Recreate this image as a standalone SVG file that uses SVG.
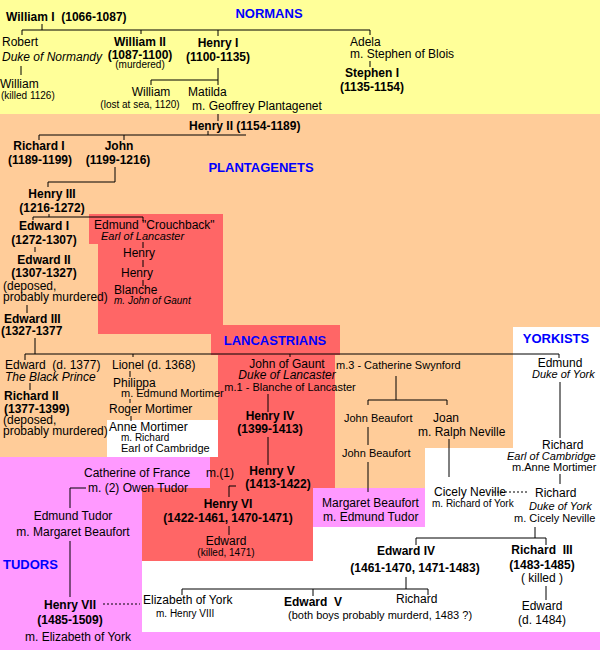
<svg xmlns="http://www.w3.org/2000/svg" width="600" height="650" viewBox="0 0 600 650">
<style>
text{font-family:"Liberation Sans",Arial,sans-serif;font-size:12px;fill:#000;white-space:pre}
.b{font-weight:bold}
.i{font-style:italic}
.s{font-size:10px}
.m{font-size:11px}
.h{font-weight:bold;fill:#0000FF;font-size:13px}
.c{text-anchor:middle}
#conn line,#conn path{stroke:#000;stroke-width:1;fill:none}
.d{stroke-dasharray:2,2}
</style>
<g id="bg">
<rect x="0" y="0" width="600" height="650" fill="#FF99FF"/>
<rect x="0" y="0" width="600" height="114" fill="#FFFF99"/>
<rect x="0" y="114" width="513" height="334" fill="#FFCC99"/>
<rect x="0" y="448" width="107" height="9" fill="#FFCC99"/>
<rect x="513" y="114" width="87" height="213" fill="#FFCC99"/>
<rect x="335" y="448" width="90" height="40" fill="#FFCC99"/>
<rect x="513" y="327" width="87" height="305" fill="#FFFFFF"/>
<rect x="425" y="448" width="175" height="184" fill="#FFFFFF"/>
<rect x="313" y="527" width="287" height="105" fill="#FFFFFF"/>
<rect x="142" y="561" width="458" height="71" fill="#FFFFFF"/>
<rect x="107" y="420" width="111" height="37" fill="#FFFFFF"/>
<rect x="89" y="214" width="134" height="30" fill="#FF6666"/>
<rect x="98" y="244" width="125" height="90" fill="#FF6666"/>
<rect x="211" y="325" width="129" height="30" fill="#FF6666"/>
<rect x="218" y="355" width="117" height="102" fill="#FF6666"/>
<rect x="210" y="457" width="125" height="40" fill="#FF6666"/>
<rect x="142" y="488" width="171" height="73" fill="#FF6666"/>
<rect x="313" y="488" width="112" height="39" fill="#FF99FF"/>
</g>
<g id="titles">
<text class="h c" x="269" y="18">NORMANS</text>
<text class="h c" x="261" y="172">PLANTAGENETS</text>
<text class="h c" x="275" y="345">LANCASTRIANS</text>
<text class="h c" x="556" y="343">YORKISTS</text>
<text class="h" x="3" y="569">TUDORS</text>
</g>
<g id="conn">
<path d="M42 24V30M22 35V30H370V35M141 30V34M218 30V36"/>
<path d="M21 66V75"/>
<path d="M218 68V80H151V85M218 80V85"/>
<path d="M370 61V67"/>
<path d="M218 114V121"/>
<path d="M208 131V135M39 140V135H246M124 135V140"/>
<path d="M115 167V182H48V187"/>
<path d="M49 214V217M33 220V217H143V221"/>
<path d="M143 242V248M143 260V267M143 280V286"/>
<path d="M35 247V252M27 305V313"/>
<path d="M35 338V354M25 360V354H559V358M133 354V357M290 354V357"/>
<path d="M30 383V390M130 371V377M130 399V403M131 416V421"/>
<path d="M268 394V412M268 437V465"/>
<path d="M396 376V400M368 405V400H447V405"/>
<path d="M368 427V445M368 462V492M449 439V477"/>
<path d="M560 382V438M560 474V484"/>
<line class="d" x1="493" y1="492" x2="527" y2="492"/>
<path d="M86 488H70V508M70 541V597"/>
<line class="d" x1="103" y1="604" x2="140" y2="604"/>
<path d="M236 486H229V497M229 526V535"/>
<path d="M535 527V538M416 545V538H546V545"/>
<path d="M546 586V600"/>
<path d="M406 577V589M182 595V589H428V595M313 589V596"/>
</g>
<g id="william1"><text class="b" x="6" y="21">William I  (1066-1087)</text></g>
<g id="robert"><text x="2" y="46">Robert</text><text class="i" x="2" y="61">Duke of Normandy</text></g>
<g id="william-r"><text x="0" y="88">William</text><text class="s" x="1" y="99">(killed 1126)</text></g>
<g id="william2"><text class="b c" x="140" y="46">William II</text><text class="b c" x="140" y="59">(1087-1100)</text><text class="s c" x="140" y="68" font-size="9">(murdered)</text></g>
<g id="henry1"><text class="b c" x="218" y="47">Henry I</text><text class="b c" x="218" y="61">(1100-1135)</text></g>
<g id="william-h"><text class="c" x="151" y="96">William</text><text class="s c" x="140" y="108">(lost at sea, 1120)</text></g>
<g id="matilda"><text x="188" y="96">Matilda</text><text x="192" y="110">m. Geoffrey Plantagenet</text></g>
<g id="adela"><text x="350" y="46">Adela</text><text x="350" y="58">m. Stephen of Blois</text></g>
<g id="stephen"><text class="b c" x="372" y="77">Stephen I</text><text class="b c" x="372" y="91">(1135-1154)</text></g>
<g id="henry2"><text class="b" x="189" y="130">Henry II (1154-1189)</text></g>
<g id="richard1"><text class="b c" x="39" y="150">Richard I</text><text class="b c" x="40" y="164">(1189-1199)</text></g>
<g id="john"><text class="b c" x="119" y="150">John</text><text class="b c" x="118" y="164">(1199-1216)</text></g>
<g id="henry3"><text class="b c" x="52" y="198">Henry III</text><text class="b c" x="52" y="212">(1216-1272)</text></g>
<g id="edward1"><text class="b c" x="44" y="230">Edward I</text><text class="b c" x="44" y="244">(1272-1307)</text></g>
<g id="edmund-c"><text x="94" y="229">Edmund "Crouchback"</text><text class="i m" x="101" y="240">Earl of Lancaster</text></g>
<g id="henry-a"><text x="123" y="257">Henry</text></g>
<g id="henry-b"><text x="121" y="277">Henry</text></g>
<g id="blanche"><text x="114" y="294">Blanche</text><text class="i s" x="114" y="304">m. John of Gaunt</text></g>
<g id="edward2"><text class="b c" x="44" y="264">Edward II</text><text class="b c" x="44" y="277">(1307-1327)</text><text x="3" y="290">(deposed,</text><text x="3" y="301">probably murdered)</text></g>
<g id="edward3"><text class="b" x="4" y="323">Edward III</text><text class="b" x="1" y="335">(1327-1377</text></g>
<g id="blackprince"><text x="5" y="369">Edward  (d. 1377)</text><text class="i" x="5" y="381">The Black Prince</text></g>
<g id="richard2"><text class="b" x="4" y="400">Richard II</text><text class="b" x="4" y="413">(1377-1399)</text><text x="3" y="424">(deposed,</text><text x="3" y="435">probably murdered)</text></g>
<g id="lionel"><text x="112" y="369">Lionel (d. 1368)</text></g>
<g id="philippa"><text x="113" y="387">Philippa</text><text class="m" x="121" y="397">m. Edmund Mortimer</text></g>
<g id="roger"><text x="109" y="413">Roger Mortimer</text></g>
<g id="anne"><text x="109" y="431">Anne Mortimer</text><text class="s" x="121" y="441">m. Richard</text><text class="m" x="121" y="452">Earl of Cambridge</text></g>
<g id="gaunt"><text class="c" x="287" y="368">John of Gaunt</text><text class="i c" x="287" y="379">Duke of Lancaster</text><text class="m c" x="290" y="391">m.1 - Blanche of Lancaster</text><text class="m" x="336" y="369">m.3 - Catherine Swynford</text></g>
<g id="henry4"><text class="b c" x="270" y="420">Henry IV</text><text class="b c" x="270" y="433">(1399-1413)</text></g>
<g id="henry5"><text class="b c" x="272" y="475">Henry V</text><text class="b c" x="278" y="488">(1413-1422)</text></g>
<g id="henry6"><text class="b c" x="228" y="508">Henry VI</text><text class="b c" x="228" y="522">(1422-1461, 1470-1471)</text></g>
<g id="edward-l"><text class="c" x="226" y="545">Edward</text><text class="s c" x="226" y="556">(killed, 1471)</text></g>
<g id="jbeaufort1"><text class="m" x="344" y="422">John Beaufort</text></g>
<g id="joan"><text x="433" y="422">Joan</text><text x="418" y="436">m. Ralph Neville</text></g>
<g id="jbeaufort2"><text class="m" x="342" y="457">John Beaufort</text></g>
<g id="margaret"><text x="322" y="507">Margaret Beaufort</text><text x="323" y="521">m. Edmund Tudor</text></g>
<g id="cicely"><text x="434" y="496">Cicely Neville</text><text class="s" x="432" y="507">m. Richard of York</text></g>
<g id="edmund-y"><text class="c" x="560" y="367">Edmund</text><text class="i m" x="532" y="378">Duke of York</text></g>
<g id="richard-c"><text x="542" y="449">Richard</text><text class="i m" x="507" y="460">Earl of Cambridge</text><text class="m" x="512" y="471">m.Anne Mortimer</text></g>
<g id="richard-y"><text x="535" y="497">Richard</text><text class="i m" x="529" y="510">Duke of York</text><text class="m" x="514" y="522">m. Cicely Neville</text></g>
<g id="catherine"><text x="84" y="477">Catherine of France</text><text x="206" y="477">m.(1)</text><text x="88" y="492">m. (2) Owen Tudor</text></g>
<g id="edmund-t"><text class="c" x="73" y="520">Edmund Tudor</text><text class="c" x="73" y="536">m. Margaret Beaufort</text></g>
<g id="henry7"><text class="b c" x="70" y="609">Henry VII</text><text class="b c" x="70" y="624">(1485-1509)</text><text class="c" x="78" y="641">m. Elizabeth of York</text></g>
<g id="edward4"><text class="b c" x="406" y="555">Edward IV</text><text class="b c" x="415" y="572">(1461-1470, 1471-1483)</text></g>
<g id="richard3"><text class="b c" x="542" y="554">Richard  III</text><text class="b c" x="542" y="569">(1483-1485)</text><text class="c" x="542" y="582">( killed )</text></g>
<g id="edward-r3"><text class="c" x="542" y="610">Edward</text><text class="c" x="542" y="624">(d. 1484)</text></g>
<g id="elizabeth"><text x="143" y="604">Elizabeth of York</text><text class="s" x="156" y="617">m. Henry VIII</text></g>
<g id="edward5"><text class="b" x="284" y="606">Edward  V</text><text class="m" x="288" y="619">(both boys probably murderd, 1483 ?)</text></g>
<g id="richard-p"><text x="396" y="603">Richard</text></g>
</svg>
